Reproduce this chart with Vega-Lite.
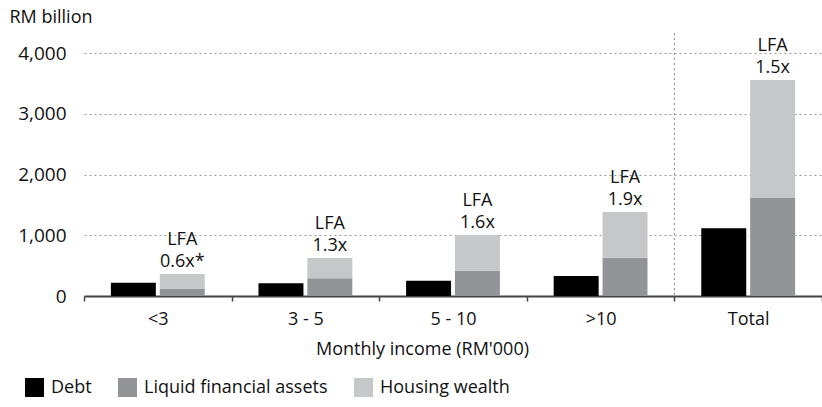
{
  "$schema": "https://vega.github.io/schema/vega-lite/v6.json",
  "width": 738,
  "height": 263,
  "autosize": {"type": "none"},
  "padding": {"left": 84, "top": 33, "right": 0, "bottom": 111},
  "background": "white",
  "config": {
    "font": "Open Sans",
    "view": {"stroke": null},
    "axis": {"labelColor": "#111", "titleColor": "#111", "labelFont": "Open Sans", "titleFont": "Open Sans"},
    "legend": {"labelFont": "Open Sans"},
    "text": {"font": "Open Sans"}
  },
  "data": {
    "values": [
      {"cat": "<3", "bar": "Debt", "series": "Debt", "value": 220, "label": ""},
      {"cat": "<3", "bar": "Assets", "series": "Liquid financial assets", "value": 115, "label": ""},
      {"cat": "<3", "bar": "Assets", "series": "Housing wealth", "value": 247, "label": "LFA\n0.6x*"},
      {"cat": "3 - 5", "bar": "Debt", "series": "Debt", "value": 209, "label": ""},
      {"cat": "3 - 5", "bar": "Assets", "series": "Liquid financial assets", "value": 291, "label": ""},
      {"cat": "3 - 5", "bar": "Assets", "series": "Housing wealth", "value": 335, "label": "LFA\n1.3x"},
      {"cat": "5 - 10", "bar": "Debt", "series": "Debt", "value": 252, "label": ""},
      {"cat": "5 - 10", "bar": "Assets", "series": "Liquid financial assets", "value": 417, "label": ""},
      {"cat": "5 - 10", "bar": "Assets", "series": "Housing wealth", "value": 588, "label": "LFA\n1.6x"},
      {"cat": ">10", "bar": "Debt", "series": "Debt", "value": 330, "label": ""},
      {"cat": ">10", "bar": "Assets", "series": "Liquid financial assets", "value": 631, "label": ""},
      {"cat": ">10", "bar": "Assets", "series": "Housing wealth", "value": 753, "label": "LFA\n1.9x"},
      {"cat": "Total", "bar": "Debt", "series": "Debt", "value": 1115, "label": ""},
      {"cat": "Total", "bar": "Assets", "series": "Liquid financial assets", "value": 1620, "label": ""},
      {"cat": "Total", "bar": "Assets", "series": "Housing wealth", "value": 1938, "label": "LFA\n1.5x"}
    ]
  },
  "encoding": {
    "x": {
      "field": "cat",
      "type": "nominal",
      "sort": ["<3", "3 - 5", "5 - 10", ">10", "Total"],
      "scale": {"paddingInner": 0, "paddingOuter": 0},
      "axis": {
        "title": "Monthly income (RM'000)",
        "labelAngle": 0,
        "labelFontSize": 18,
        "titleFontSize": 18,
        "titleFontWeight": "normal",
        "titleX": 338,
        "titlePadding": 12,
        "labelPadding": 9,
        "tickBand": "extent",
        "tickSize": 5,
        "tickColor": "#444",
        "tickWidth": 1.5,
        "domainColor": "#444",
        "domainWidth": 2,
        "grid": false
      }
    }
  },
  "layer": [
    {
      "data": {"values": [{"cat": "Total"}]},
      "mark": {"type": "rule", "color": "#888", "strokeDash": [2, 3], "strokeWidth": 1},
      "encoding": {
        "x": {"field": "cat", "type": "nominal", "bandPosition": 0}
      }
    },
    {
      "mark": {"type": "bar"},
      "encoding": {
        "xOffset": {
          "field": "bar",
          "type": "nominal",
          "sort": ["Debt", "Assets"],
          "scale": {"paddingInner": 0.08, "paddingOuter": 0.55}
        },
        "y": {
          "field": "value",
          "type": "quantitative",
          "stack": "zero",
          "scale": {"domain": [0, 4330], "nice": false},
          "axis": {
            "title": "RM billion",
            "titleAngle": 0,
            "titleAlign": "left",
            "titleBaseline": "bottom",
            "titleX": -75,
            "titleY": -7,
            "titleFontSize": 18,
            "titleFontWeight": "normal",
            "values": [0, 1000, 2000, 3000, 4000],
            "format": ",d",
            "labelFontSize": 19,
            "labelPadding": 18,
            "ticks": false,
            "domain": false,
            "grid": true,
            "gridColor": "#999",
            "gridDash": [2, 3],
            "gridWidth": 1
          }
        },
        "color": {
          "field": "series",
          "type": "nominal",
          "sort": ["Debt", "Liquid financial assets", "Housing wealth"],
          "scale": {
            "domain": ["Debt", "Liquid financial assets", "Housing wealth"],
            "range": ["#000000", "#939498", "#c6c7c9"]
          },
          "legend": {
            "title": null,
            "orient": "none",
            "direction": "horizontal",
            "legendX": -59,
            "legendY": 345,
            "symbolType": "square",
            "symbolSize": 361,
            "symbolStrokeWidth": 0,
            "labelFontSize": 18,
            "labelColor": "#111",
            "labelOffset": 7,
            "columnPadding": 26,
            "labelLimit": 400
          }
        }
      }
    },
    {
      "transform": [
        {"joinaggregate": [{"op": "sum", "field": "value", "as": "total"}], "groupby": ["cat", "bar"]},
        {"filter": "datum.series === 'Housing wealth'"}
      ],
      "mark": {"type": "text", "baseline": "bottom", "dy": -25, "fontSize": 18, "lineBreak": "\n", "lineHeight": 22, "color": "#111"},
      "encoding": {
        "xOffset": {
          "field": "bar",
          "type": "nominal",
          "sort": ["Debt", "Assets"],
          "scale": {"paddingInner": 0.08, "paddingOuter": 0.55}
        },
        "y": {"field": "total", "type": "quantitative"},
        "text": {"field": "label"}
      }
    }
  ]
}
